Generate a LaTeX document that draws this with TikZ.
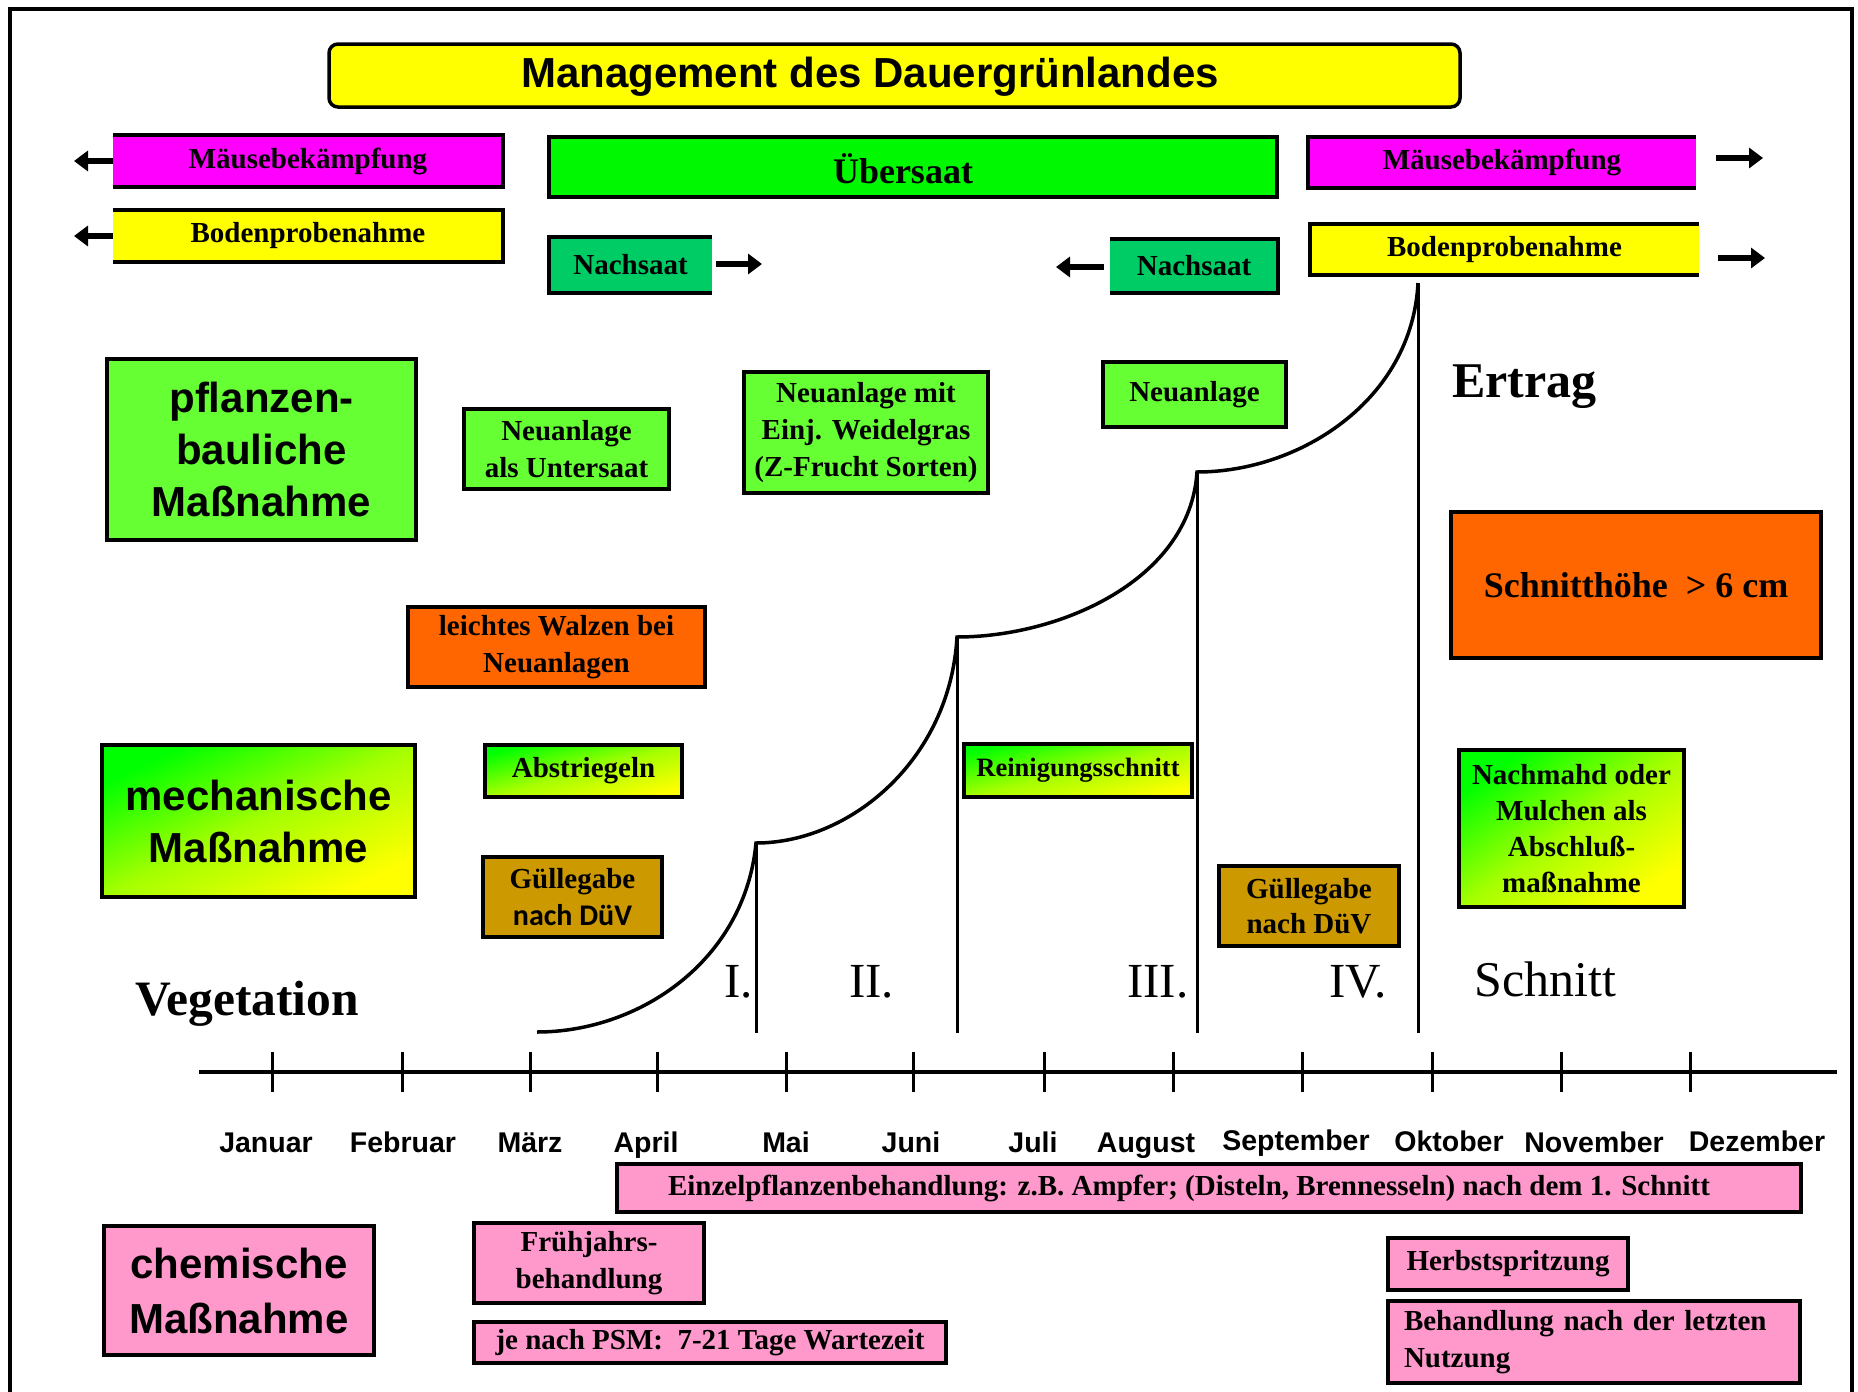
\documentclass[tikz,border=0pt]{standalone}
\usepackage{fontspec}
\setmainfont{Liberation Serif}
\newfontfamily\arialf{Liberation Sans}
\newfontfamily\calibf{Carlito}
\usetikzlibrary{arrows.meta}
\definecolor{cyel}{RGB}{255,255,0}
\definecolor{cmag}{RGB}{255,0,255}
\definecolor{cgreen}{RGB}{0,248,0}
\definecolor{cnach}{RGB}{0,204,102}
\definecolor{clgreen}{RGB}{102,255,51}
\definecolor{corange}{RGB}{255,102,0}
\definecolor{cgold}{RGB}{204,153,0}
\definecolor{cpink}{RGB}{255,153,204}
\definecolor{cgrad}{RGB}{0,255,0}
\definecolor{cgmid}{RGB}{165,255,0}
\newcommand\tb{\fontsize{29pt}{37pt}\selectfont\bfseries}
\newcommand\ab[2]{\fontsize{#1pt}{#2pt}\selectfont\arialf\bfseries}
\newcommand\tr[1]{\fontsize{#1pt}{#1pt}\selectfont}
\tikzset{
  box/.style={draw=black, line width=4pt, inner sep=0pt, align=center, font=\tb},
  gbox/.style={box, top color=cgrad, bottom color=cyel, middle color=cgmid, shading angle=#1},
  obox/.style={inner sep=0pt, font=\tb},
  bord/.style={line width=4pt},
  fatarrow/.style={line width=6pt, -{Triangle[length=14pt,width=20pt]}},
  month/.style={anchor=base, inner sep=0pt, font={\ab{28.5}{30}}},
  rom/.style={anchor=base west, inner sep=0pt, font={\tr{49}}},
  curve/.style={line width=3.5pt},
  cut/.style={line width=3pt}
}
\begin{document}
\begin{tikzpicture}[x=1pt,y=-1pt]
\useasboundingbox (0,0) rectangle (1858,1392);
\fill[white] (0,0) rectangle (1858,1392);
\draw[line width=3.5pt] (10,1392) -- (10,9) -- (1852,9) -- (1852,1392);

% title
\node[draw, line width=3.5pt, fill=cyel, rounded corners=9pt, minimum width=1131pt, minimum height=63pt, inner sep=0pt] (title) at (894.5,75.5) {};
\node[inner sep=0pt, font={\ab{42}{48}}] (titletext) at (870,77) {Management des Dauergrünlandes};

% top row bars
\node[obox, fill=cmag, minimum width=390pt, minimum height=52pt] (mausL) at (308,161) {Mäusebekämpfung};
\draw[bord] (mausL.north west) -- (mausL.north east) -- (mausL.south east) -- (mausL.south west);
\coordinate (mausLtip) at (74,161);
\draw[fatarrow] (mausL.west) -- (mausLtip);

\node[obox, fill=cyel, minimum width=390pt, minimum height=52pt] (bodenL) at (308,236) {Bodenprobenahme};
\draw[bord] (bodenL.north west) -- (bodenL.north east) -- (bodenL.south east) -- (bodenL.south west);
\coordinate (bodenLtip) at (74,236);
\draw[fatarrow] (bodenL.west) -- (bodenLtip);

\node[box, fill=cgreen, minimum width=728pt, minimum height=60pt] (uebersaat) at (913,167) {};
\node[inner sep=0pt, font={\tr{36}\bfseries}] (uebertext) at (903,169) {Übersaat};

\node[obox, fill=cnach, minimum width=163pt, minimum height=56pt] (nachL) at (630.5,265) {Nachsaat};
\draw[bord] (nachL.north east) -- (nachL.north west) -- (nachL.south west) -- (nachL.south east);
\coordinate (nachLa) at (716,264);
\coordinate (nachLb) at (762,264);
\draw[fatarrow] (nachLa) -- (nachLb);

\node[obox, fill=cmag, minimum width=388pt, minimum height=51pt] (mausR) at (1502,162.5) {Mäusebekämpfung};
\draw[bord] (mausR.north east) -- (mausR.north west) -- (mausR.south west) -- (mausR.south east);
\coordinate (mausRa) at (1716,158);
\coordinate (mausRb) at (1763,158);
\draw[fatarrow] (mausRa) -- (mausRb);

\node[obox, fill=cyel, minimum width=389pt, minimum height=51pt] (bodenR) at (1504.5,249.5) {Bodenprobenahme};
\draw[bord] (bodenR.north east) -- (bodenR.north west) -- (bodenR.south west) -- (bodenR.south east);
\coordinate (bodenRa) at (1718,258);
\coordinate (bodenRb) at (1765,258);
\draw[fatarrow] (bodenRa) -- (bodenRb);

\node[obox, fill=cnach, minimum width=168pt, minimum height=54pt] (nachR) at (1194,266) {Nachsaat};
\draw[bord] (nachR.north west) -- (nachR.north east) -- (nachR.south east) -- (nachR.south west);
\coordinate (nachRa) at (1104,267);
\coordinate (nachRb) at (1056,267);
\draw[fatarrow] (nachRa) -- (nachRb);

% pflanzenbauliche row
\node[box, fill=clgreen, minimum width=309pt, minimum height=181pt, font={\ab{42}{52}}] (pflanz) at (261.5,449.5) {pflanzen-\\bauliche\\Maßnahme};
\node[box, fill=clgreen, minimum width=205pt, minimum height=80pt] (untersaat) at (566.5,449) {Neuanlage\\als Untersaat};
\node[box, fill=clgreen, minimum width=244pt, minimum height=121pt] (weidel) at (866,432.5) {Neuanlage mit\\Einj. Weidelgras\\(Z-Frucht Sorten)};
\node[box, fill=clgreen, minimum width=183pt, minimum height=65pt] (neuR) at (1194.5,394.5) {Neuanlage};
\node[anchor=base west, inner sep=0pt, font={\tr{50}\bfseries}] (ertrag) at (1452,397) {Ertrag};

\node[box, fill=corange, minimum width=297pt, minimum height=80pt] (walzen) at (556.5,647) {leichtes Walzen bei\\Neuanlagen};
\node[box, fill=corange, minimum width=370pt, minimum height=146pt, font={\tr{36}\bfseries}] (hoehe) at (1636,585) {Schnitthöhe \ > 6 cm};

% mechanische row
\node[gbox=25.9, minimum width=313pt, minimum height=152pt, font={\ab{42}{52}}] (mech) at (258.5,821) {mechanische\\Maßnahme};
\node[gbox=14.8, minimum width=197pt, minimum height=52pt] (abstr) at (583.5,771) {Abstriegeln};
\node[box, fill=cgold, minimum width=179pt, minimum height=80pt] (guelleL) at (572.5,897) {Güllegabe\\{\calibf\fontsize{30pt}{37pt}\selectfont nach DüV}};
\node[gbox=13.1, minimum width=228pt, minimum height=53pt, font={\fontsize{26.5pt}{33pt}\selectfont\bfseries}] (reinig) at (1078,770.5) {Reinigungsschnitt};
\node[box, fill=cgold, minimum width=180pt, minimum height=80pt, font={\fontsize{29pt}{35pt}\selectfont\bfseries}] (guelleR) at (1309,906) {Güllegabe\\nach DüV};
\node[gbox=34.9, minimum width=225pt, minimum height=157pt, font={\fontsize{29pt}{36pt}\selectfont\bfseries}] (nachmahd) at (1571.5,828.5) {Nachmahd oder\\Mulchen als\\Abschluß-\\maßnahme};

% growth curve
\draw[curve] (537,1032) .. controls (640,1032) and (745,960) .. (756,843)
  .. controls (850,843) and (950,760) .. (957,637)
  .. controls (1060,637) and (1190,580) .. (1197,472)
  .. controls (1300,472) and (1412,400) .. (1418,283);
\draw[cut] (756,843) -- (756,1033);
\draw[cut] (957,637) -- (957,1033);
\draw[cut] (1197,472) -- (1197,1033);
\draw[cut] (1418,283) -- (1418,1033);

\node[anchor=base west, inner sep=0pt, font={\tr{49.5}\bfseries}] (veg) at (135,1015) {Vegetation};
\node[rom] (r1) at (724,997) {I.};
\node[rom] (r2) at (849,997) {II.};
\node[rom] (r3) at (1127,997) {III.};
\node[rom] (r4) at (1329,997) {IV.};
\node[rom, font={\tr{50}}] (schnitt) at (1474,996) {Schnitt};

% axis
\draw[line width=4.5pt] (199,1072) -- (1837,1072);
\foreach \x in {272,402,530,657,786,913,1044,1173,1302,1432,1561,1690}
  \draw[line width=3pt] (\x,1052) -- (\x,1092);

\node[month] (m1) at (266,1152) {Januar};
\node[month] (m2) at (403,1152) {Februar};
\node[month] (m3) at (530,1152) {März};
\node[month] (m4) at (646,1152) {April};
\node[month] (m5) at (786,1152) {Mai};
\node[month] (m6) at (911,1152) {Juni};
\node[month] (m7) at (1033,1152) {Juli};
\node[month] (m8) at (1146,1152) {August};
\node[month] (m9) at (1296,1150) {September};
\node[month] (m10) at (1449,1151) {Oktober};
\node[month] (m11) at (1594,1152) {November};
\node[month] (m12) at (1757,1151) {Dezember};

% chemische row
\node[box, fill=cpink, minimum width=1184pt, minimum height=48pt] (einzel) at (1209,1188) {};
\node[inner sep=0pt, font=\tb] (einzeltext) at (1189,1188) {Einzelpflanzenbehandlung: z.B. Ampfer; (Disteln, Brennesseln) nach dem 1. Schnitt};
\node[box, fill=cpink, minimum width=270pt, minimum height=129pt, font={\ab{42}{55}}] (chem) at (239,1290.5) {chemische\\Maßnahme};
\node[box, fill=cpink, minimum width=230pt, minimum height=80pt] (fruehj) at (589,1263) {Frühjahrs-\\behandlung};
\node[box, fill=cpink, minimum width=472pt, minimum height=41pt] (psm) at (710,1342.5) {je nach PSM: \ 7-21 Tage Wartezeit};
\node[box, fill=cpink, minimum width=240pt, minimum height=52pt] (herbst) at (1508,1264) {Herbstspritzung};
\node[box, fill=cpink, minimum height=82pt, text width=380pt, align=left, inner xsep=16pt] (letzte) at (1594,1342) {Behandlung nach der letzten\\Nutzung};
\end{tikzpicture}
\end{document}
